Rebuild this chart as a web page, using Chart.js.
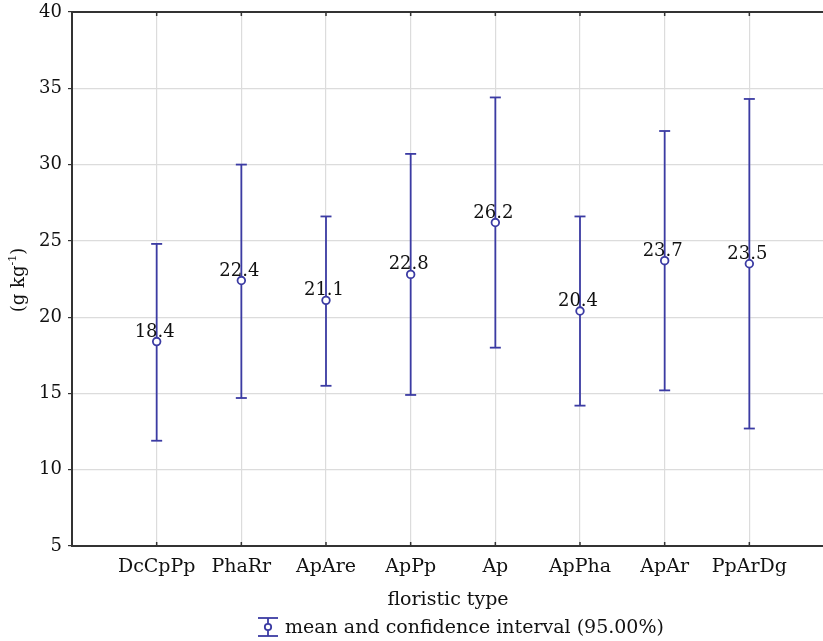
<!DOCTYPE html>
<html>
<head>
<meta charset="utf-8">
<script src="https://cdn.jsdelivr.net/npm/chart.js@4"></script>
<style>
html,body{margin:0;padding:0;background:#fff;overflow:hidden;}
#wrap{width:834px;height:641px;position:relative;}
</style>
</head>
<body>
<div id="wrap"><canvas id="c"></canvas></div>
<script>
const categories = ["DcCpPp","PhaRr","ApAre","ApPp","Ap","ApPha","ApAr","PpArDg"];
const means = [18.4, 22.4, 21.1, 22.8, 26.2, 20.4, 23.7, 23.5];
const upper = [24.8, 30.0, 26.6, 30.7, 34.4, 26.6, 32.2, 34.3];
const lower = [11.9, 14.7, 15.5, 14.9, 18.0, 14.2, 15.2, 12.7];
const yTicks = [5,10,15,20,25,30,35,40];

const FONT = "'DejaVu Serif', serif";
const BAR = '#3b3ba3';

const pts = means.map((m,i)=>({x:i+1,y:m}));

const extras = {
  id:'extras',
  afterDatasetsDraw(chart){
    const ctx = chart.ctx, xs = chart.scales.x, ys = chart.scales.y, a = chart.chartArea;
    ctx.save();
    // top border
    ctx.strokeStyle = '#333'; ctx.lineWidth = 2;
    ctx.beginPath(); ctx.moveTo(a.left-1, a.top); ctx.lineTo(a.right, a.top); ctx.stroke();
    // inner ticks top/bottom
    ctx.lineWidth = 1.5;
    categories.forEach((c,i)=>{const x=xs.getPixelForValue(i+1);ctx.beginPath();ctx.moveTo(x,a.top);ctx.lineTo(x,a.top+4);ctx.stroke();
      ctx.beginPath();ctx.moveTo(x,a.bottom);ctx.lineTo(x,a.bottom-4);ctx.stroke();});
    // error bars
    ctx.strokeStyle = BAR; ctx.lineWidth = 1.8;
    categories.forEach((c,i)=>{
      const x = xs.getPixelForValue(i+1);
      const yu = ys.getPixelForValue(upper[i]), yl = ys.getPixelForValue(lower[i]);
      ctx.beginPath(); ctx.moveTo(x,yu); ctx.lineTo(x,yl); ctx.stroke();
      ctx.beginPath(); ctx.moveTo(x-5.5,yu); ctx.lineTo(x+5.5,yu); ctx.stroke();
      ctx.beginPath(); ctx.moveTo(x-5.5,yl); ctx.lineTo(x+5.5,yl); ctx.stroke();
      const ym = ys.getPixelForValue(means[i]);
      ctx.fillStyle='#fff'; ctx.beginPath(); ctx.arc(x,ym,3.8,0,Math.PI*2); ctx.fill(); ctx.stroke();
    });
    // value labels
    ctx.fillStyle = '#111'; ctx.font = '18px '+FONT; ctx.textAlign='center'; ctx.textBaseline='alphabetic';
    categories.forEach((c,i)=>{
      const x = xs.getPixelForValue(i+1), ym = ys.getPixelForValue(means[i]);
      ctx.fillText(means[i].toFixed(1), x-2, ym-5);
    });
    // x title
    ctx.font = '19px '+FONT;
    ctx.fillText('floristic type', 448, 605);
    // y title with superscript
    ctx.save();
    ctx.translate(24, 280); ctx.rotate(-Math.PI/2);
    const p1='(g kg', p2='-1', p3=')';
    ctx.font='18px '+FONT; const w1=ctx.measureText(p1).width, w3=ctx.measureText(p3).width;
    ctx.font='11px '+FONT; const w2=ctx.measureText(p2).width;
    let sx = -(w1+w2+w3)/2;
    ctx.textAlign='left';
    ctx.font='18px '+FONT; ctx.fillText(p1,sx,0); sx+=w1;
    ctx.font='11px '+FONT; ctx.fillText(p2,sx,-8); sx+=w2;
    ctx.font='18px '+FONT; ctx.fillText(p3,sx,0);
    ctx.restore();
    // legend
    const lx=268, ly=627;
    ctx.strokeStyle=BAR; ctx.lineWidth=1.8;
    ctx.beginPath(); ctx.moveTo(lx,ly-9); ctx.lineTo(lx,ly+9); ctx.stroke();
    ctx.beginPath(); ctx.moveTo(lx-10,ly-9); ctx.lineTo(lx+10,ly-9); ctx.stroke();
    ctx.beginPath(); ctx.moveTo(lx-10,ly+9); ctx.lineTo(lx+10,ly+9); ctx.stroke();
    ctx.fillStyle='#fff'; ctx.beginPath(); ctx.arc(lx,ly,3.2,0,Math.PI*2); ctx.fill(); ctx.stroke();
    ctx.fillStyle='#111'; ctx.font='19px '+FONT; ctx.textAlign='left';
    ctx.fillText('mean and confidence interval (95.00%)', 285, 633);
    ctx.restore();
  }
};

new Chart(document.getElementById('c'), {
  type:'scatter',
  data:{datasets:[{data:pts, pointRadius:0, showLine:false, borderColor:BAR, backgroundColor:'#fff'}]},
  options:{
    responsive:true, maintainAspectRatio:false, animation:false,
    layout:{padding:{top:12,left:0,right:0,bottom:0}},
    plugins:{legend:{display:false}, tooltip:{enabled:false}},
    scales:{
      x:{type:'linear', min:0, max:9,
        afterBuildTicks(s){ s.ticks = categories.map((c,i)=>({value:i+1})); },
        afterFit(s){ s.height = 95; s.paddingLeft = 0; s.paddingRight = 0; },
        ticks:{callback:(v)=>categories[v-1]||'', font:{family:FONT,size:19}, color:'#111', padding:10, maxRotation:0, autoSkip:false},
        grid:{color:'#dcdcdc', lineWidth:1.2, drawTicks:false},
        border:{color:'#333', width:2}
      },
      y:{type:'linear', min:5, max:40,
        afterBuildTicks(s){ s.ticks = yTicks.map(v=>({value:v})); },
        afterFit(s){ s.width = 72; s.paddingTop = 0; s.paddingBottom = 0; },
        ticks:{font:{family:FONT,size:18}, color:'#111', padding:6},
        grid:{color:'#dcdcdc', lineWidth:1.2, tickLength:4, tickColor:'#333'},
        border:{color:'#333', width:2}
      }
    }
  },
  plugins:[extras]
});
</script>
</body>
</html>
